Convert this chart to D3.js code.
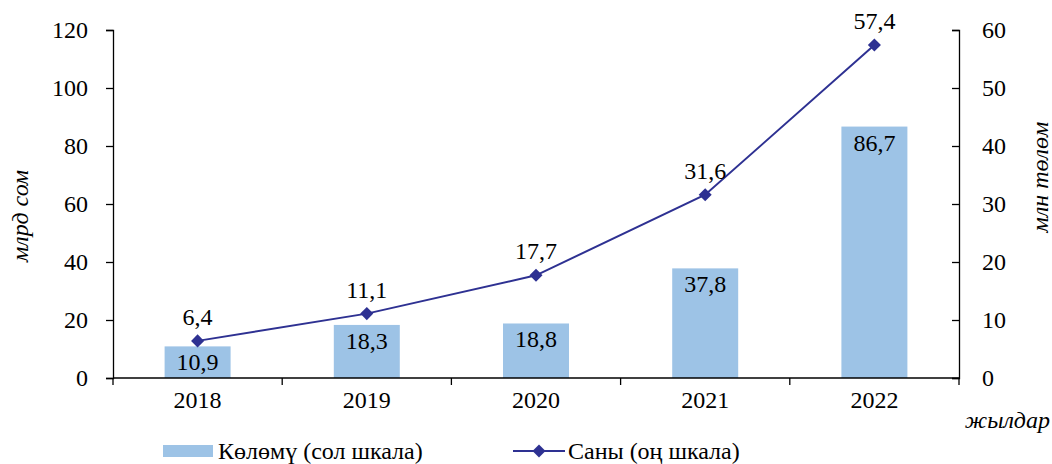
<!DOCTYPE html>
<html>
<head>
<meta charset="utf-8">
<script src="https://cdn.jsdelivr.net/npm/d3@7"></script>
<style>
  body { margin: 0; background: #fff; }
</style>
</head>
<body>
<div id="chart"></div>
<script>
// данные
var years = ["2018", "2019", "2020", "2021", "2022"];
var volume = [10.9, 18.3, 18.8, 37.8, 86.7];   // млрд сом (сол шкала)
var count = [6.4, 11.1, 17.7, 31.6, 57.4];     // млн төлөм (оң шкала)
var leftTicks = [0, 20, 40, 60, 80, 100, 120];
var rightTicks = [0, 10, 20, 30, 40, 50, 60];

function fN(n) {
    return n.toFixed(1).replace(".", ",");
}

var FONT = "Liberation Serif";
var fontSize = 24;
var navy = "#2e3192", blue = "#9dc3e6";

var W = 1052, H = 464;
var margin = {top: 30, right: 93, bottom: 86, left: 113};
var width = W - margin.left - margin.right,
    height = H - margin.top - margin.bottom;

var svg = d3.select("#chart")
    .append("svg")
    .attr("width", W)
    .attr("height", H);

var g = svg.append("g")
    .attr("transform", "translate(" + margin.left + "," + margin.top + ")");

var x = d3.scaleBand()
    .domain(years)
    .range([0, width])
    .paddingInner(0.61)
    .paddingOuter(0.305);

var yL = d3.scaleLinear().domain([0, 120]).range([height, 0]);
var yR = d3.scaleLinear().domain([0, 60]).range([height, 0]);

function txt(sel) {
    return sel.attr("font-family", FONT).attr("font-size", fontSize).attr("fill", "#000");
}

// bars
g.selectAll(".bar")
    .data(volume)
    .enter()
    .append("rect")
    .attr("x", function(d, i) { return x(years[i]); })
    .attr("y", function(d) { return yL(d); })
    .attr("width", x.bandwidth())
    .attr("height", function(d) { return height - yL(d); })
    .attr("fill", blue);

// axes
var axL = g.append("g")
    .call(d3.axisLeft(yL).tickValues(leftTicks).tickSize(7).tickPadding(18));
var axR = g.append("g")
    .attr("transform", "translate(" + width + ",0)")
    .call(d3.axisLeft(yR).tickValues(rightTicks).tickSize(7).tickFormat(""));
// right axis labels sit outside the plot
g.append("g").selectAll("text")
    .data(rightTicks)
    .enter()
    .append("text")
    .attr("x", width + 23)
    .attr("y", function(d) { return yR(d); })
    .attr("dy", "0.33em")
    .call(txt)
    .text(function(d) { return d; });

var step = x.step();
var axB = g.append("g")
    .attr("transform", "translate(0," + height + ")");
axB.append("line")
    .attr("x1", 0).attr("x2", width)
    .attr("stroke", "#000").attr("stroke-width", 1.3);
axB.selectAll(".tk")
    .data(d3.range(years.length + 1))
    .enter()
    .append("line")
    .attr("x1", function(i) { return i * step; })
    .attr("x2", function(i) { return i * step; })
    .attr("y1", 0).attr("y2", 7)
    .attr("stroke", "#000").attr("stroke-width", 1.3);
axB.selectAll(".lbl")
    .data(years)
    .enter()
    .append("text")
    .attr("x", function(d) { return x(d) + x.bandwidth() / 2; })
    .attr("y", 30)
    .attr("text-anchor", "middle")
    .call(txt)
    .text(function(d) { return d; });

[axL, axR].forEach(function(a) {
    a.attr("font-family", null).attr("font-size", null);
    a.select(".domain").attr("stroke", "#000").attr("stroke-width", 1.3);
    a.selectAll(".tick line").attr("stroke", "#000").attr("stroke-width", 1.3);
    a.selectAll(".tick text").call(txt);
});

// bar value labels
g.selectAll(".vl")
    .data(volume)
    .enter()
    .append("text")
    .attr("x", function(d, i) { return x(years[i]) + x.bandwidth() / 2; })
    .attr("y", function(d) { return yL(d) + 24; })
    .attr("text-anchor", "middle")
    .call(txt)
    .text(function(d) { return fN(d); });

// line
var cx = function(d, i) { return x(years[i]) + x.bandwidth() / 2; };
var line = d3.line()
    .x(cx)
    .y(function(d) { return yR(d); });
g.append("path")
    .datum(count)
    .attr("d", line)
    .attr("fill", "none")
    .attr("stroke", navy)
    .attr("stroke-width", 2);

// diamond = rotated square
var diamond = d3.symbol().type(d3.symbolSquare).size(85);
g.selectAll(".pt")
    .data(count)
    .enter()
    .append("path")
    .attr("d", diamond)
    .attr("transform", function(d, i) { return "translate(" + cx(d, i) + "," + yR(d) + ") rotate(45)"; })
    .attr("fill", navy);

g.selectAll(".cl")
    .data(count)
    .enter()
    .append("text")
    .attr("x", cx)
    .attr("y", function(d) { return yR(d) - 16; })
    .attr("text-anchor", "middle")
    .call(txt)
    .text(function(d) { return fN(d); });

// axis titles
svg.append("text")
    .attr("transform", "translate(28,216) rotate(-90)")
    .attr("text-anchor", "middle")
    .call(txt)
    .attr("font-style", "italic")
    .text("млрд сом");
svg.append("text")
    .attr("transform", "translate(1048,177) rotate(-90)")
    .attr("text-anchor", "middle")
    .call(txt)
    .attr("font-style", "italic")
    .text("млн төлөм");
svg.append("text")
    .attr("x", 1050)
    .attr("y", 428)
    .attr("text-anchor", "end")
    .call(txt)
    .attr("font-style", "italic")
    .text("жылдар");

// legend
var lg = svg.append("g").attr("transform", "translate(0,451)");
lg.append("rect")
    .attr("x", 163).attr("y", -6)
    .attr("width", 50).attr("height", 12)
    .attr("fill", blue);
lg.append("text")
    .attr("x", 218).attr("y", 0).attr("dy", "0.33em")
    .call(txt)
    .text("Көлөмү (сол шкала)");
lg.append("line")
    .attr("x1", 513).attr("x2", 565)
    .attr("stroke", navy).attr("stroke-width", 2);
lg.append("path")
    .attr("d", diamond)
    .attr("transform", "translate(539,0) rotate(45)")
    .attr("fill", navy);
lg.append("text")
    .attr("x", 568).attr("y", 0).attr("dy", "0.33em")
    .call(txt)
    .text("Саны (оң шкала)");
</script>
</body>
</html>
